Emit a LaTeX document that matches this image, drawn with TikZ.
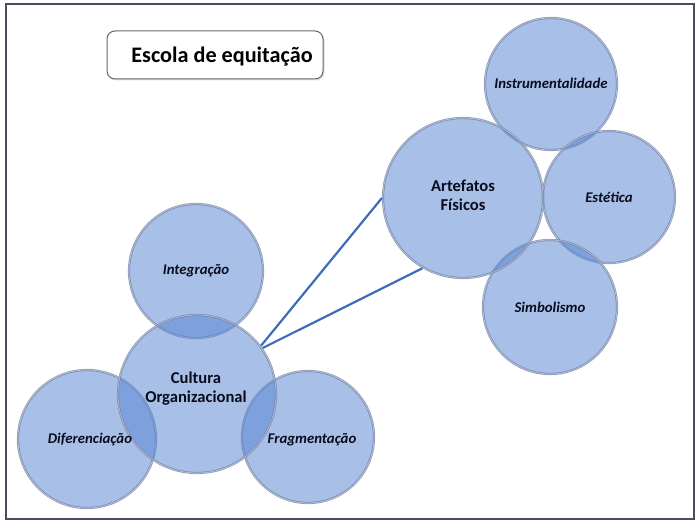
\documentclass[tikz,border=0pt]{standalone}
\usepackage{fontspec}
\setmainfont{Carlito}
\usetikzlibrary{shadows}
\definecolor{bubfill}{RGB}{90,135,212}
\definecolor{bubrim}{RGB}{112,128,165}
\definecolor{linkblue}{RGB}{62,108,186}
\definecolor{txt}{RGB}{10,12,28}
\definecolor{framec}{RGB}{70,78,96}
\tikzset{
  bub/.style={circle, inner sep=0pt, fill=bubfill, fill opacity=0.53, text opacity=1,
    draw=bubrim, draw opacity=0.8, line width=2.2pt, text=txt, align=center,
    postaction={draw=white, draw opacity=0.45, line width=0.7pt}},
  lab/.style={font=\bfseries\itshape\fontsize{14.8}{17}\selectfont},
  main/.style={font=\bfseries\fontsize{16.6}{19}\selectfont},
  link/.style={draw=linkblue, line width=2.2pt},
  titlebox/.style={draw=black!60, rounded corners=8pt, line width=1pt, fill=white,
    drop shadow={opacity=0.25, shadow xshift=1.5pt, shadow yshift=-1.5pt}},
}
\begin{document}
\begin{tikzpicture}[x=1pt,y=-1pt]
\useasboundingbox (0,0) rectangle (700,524);
\draw[framec, line width=1.3pt] (6,4) rectangle (694,519);
% title
\node[titlebox, minimum width=216pt, minimum height=48pt] (tbox) at (215,55) {};
\node[font=\bfseries\fontsize{22.2}{25}\selectfont, text=black] (title) at (222,57) {Escola de equitação};
% left group
\node[bub, minimum size=134pt] (integ) at (196,271) {};
\node[bub, minimum size=138pt] (difer) at (87,439) {};
\node[bub, minimum size=132pt] (fragm) at (308,437) {};
\node[bub, minimum size=158pt] (cult) at (197,394) {};
\node[lab, text=txt] (integt) at (196,271) {Integração};
\node[lab, text=txt] (difert) at (90,440) {Diferenciação};
\node[lab, text=txt] (fragmt) at (312,440) {Fragmentação};
\node[main, text=txt, align=center] (cultt) at (196,389) {Cultura\\Organizacional};
% right group
\node[bub, minimum size=132pt] (instr) at (551,84) {};
\node[bub, minimum size=132pt] (estet) at (609,197) {};
\node[bub, minimum size=134pt] (simb) at (550,307) {};
\node[bub, minimum size=160pt] (artef) at (463,198) {};
\node[lab, text=txt] (instrt) at (551,83) {Instrumentalidade};
\node[lab, text=txt] (estett) at (609,197) {Estética};
\node[lab, text=txt] (simbt) at (550,307) {Simbolismo};
\node[main, text=txt, align=center] (artt) at (463,195) {Artefatos\\Físicos};
% links
\draw[link] (cult.37) -- (artef.180);
\draw[link] (cult.35) -- (artef.240);
\end{tikzpicture}
\end{document}
